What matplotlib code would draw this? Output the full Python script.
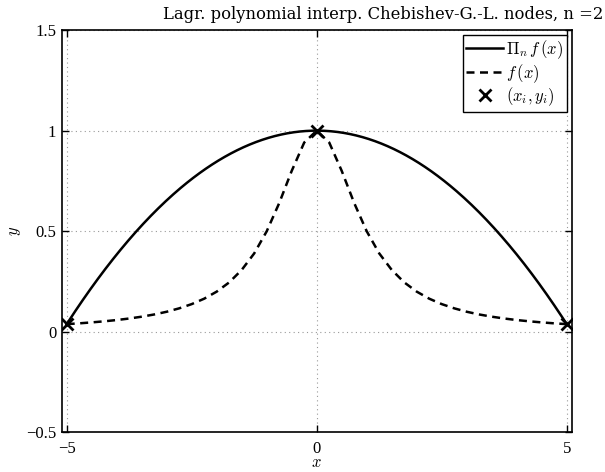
import numpy as np
import matplotlib
matplotlib.use("Agg")
import matplotlib.pyplot as plt

plt.rcParams["mathtext.fontset"] = "cm"
plt.rcParams["font.family"] = ["Liberation Serif", "DejaVu Serif"]

# Chebyshev-Gauss-Lobatto nodes (n = 2) and the sampled values there
x_nodes = [-5.0, 0.0, 5.0]
y_nodes = [0.0385, 1.0, 0.0385]

# Samples of f(x) along [-5, 5]
x_f = [-5.0, -4.75, -4.5, -4.25, -4.0, -3.75, -3.5, -3.25, -3.0, -2.75,
       -2.5, -2.25, -2.0, -1.75, -1.5, -1.25, -1.0, -0.75, -0.5, -0.25,
       0.0, 0.25, 0.5, 0.75, 1.0, 1.25, 1.5, 1.75, 2.0, 2.25,
       2.5, 2.75, 3.0, 3.25, 3.5, 3.75, 4.0, 4.25, 4.5, 4.75, 5.0]
y_f = [0.0385, 0.0424, 0.0471, 0.0525, 0.0588, 0.0664, 0.0755, 0.0865, 0.100, 0.117,
       0.138, 0.165, 0.200, 0.246, 0.308, 0.390, 0.500, 0.640, 0.800, 0.941,
       1.000, 0.941, 0.800, 0.640, 0.500, 0.390, 0.308, 0.246, 0.200, 0.165,
       0.138, 0.117, 0.100, 0.0865, 0.0755, 0.0664, 0.0588, 0.0525, 0.0471, 0.0424, 0.0385]

x_ticks = [-5, 0, 5]
y_ticks = [-0.5, 0, 0.5, 1, 1.5]
y_tick_labels = ["\u22120.5", "0", "0.5", "1", "1.5"]
x_tick_labels = ["\u22125", "0", "5"]

fig = plt.figure(figsize=(6.05, 4.72), dpi=100)
ax = fig.add_axes([0.102, 0.0837, 0.843, 0.8527])

# Lagrange interpolant through the nodes (degree = number of nodes - 1)
coef = np.polyfit(x_nodes, y_nodes, len(x_nodes) - 1)
xx = np.linspace(min(x_nodes), max(x_nodes), 400)

ax.plot(xx, np.polyval(coef, xx), color="black", lw=1.8, label=r"$\Pi_n\, f\,(x)$")
ax.plot(x_f, y_f, color="black", lw=1.8, ls=(0, (3.2, 2.2)), label=r"$f\,(x)$")
ax.plot(x_nodes, y_nodes, ls="none", marker="x", ms=9, mew=2.0, color="black",
        label=r"$(x_i, y_i)$")

ax.set_xlim(-5.1, 5.1)
ax.set_ylim(-0.5, 1.5)
ax.set_xticks(x_ticks)
ax.set_xticklabels(x_tick_labels)
ax.set_yticks(y_ticks)
ax.set_yticklabels(y_tick_labels)
ax.tick_params(direction="in", length=5, width=1, labelsize=12, top=True, right=True)
ax.tick_params(axis="x", pad=6)
ax.tick_params(axis="y", pad=4)
ax.grid(True, ls=(0, (1, 3)), color="#999999", lw=0.8)
for sp in ax.spines.values():
    sp.set_linewidth(1.2)

ax.set_xlabel(r"$x$", fontsize=12, labelpad=-1)
ax.set_ylabel(r"$y$", fontsize=12, labelpad=2)

fig.text(0.997, 0.952, "Lagr. polynomial interp. Chebishev-G.-L. nodes, n =2",
         ha="right", va="bottom", fontsize=11.8, family="DejaVu Serif")

leg = ax.legend(loc="upper right", fontsize=12, frameon=True, fancybox=False,
                framealpha=1, edgecolor="black", borderaxespad=0.3,
                handlelength=2.2, handletextpad=0.2, borderpad=0.2,
                labelspacing=0.05)
leg.get_frame().set_linewidth(1.0)

fig.savefig("out.png", dpi=100)
